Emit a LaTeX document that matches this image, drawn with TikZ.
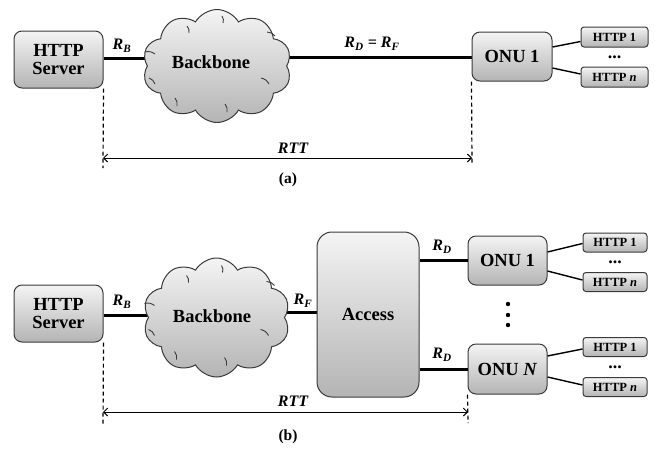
\documentclass[tikz,border=0pt]{standalone}
\usepackage{fontspec}
\setmainfont{Liberation Serif}
\usetikzlibrary{shapes.symbols,arrows.meta,calc}
\pgfdeclarelayer{bg}
\pgfsetlayers{bg,main}
\definecolor{boxtop}{HTML}{F4F4F4}
\definecolor{boxbot}{HTML}{B4B4B4}
\definecolor{edgec}{HTML}{3A3A3A}
\tikzset{
  gfill/.style={top color=boxtop, bottom color=boxbot, draw=edgec, line width=1},
  bigbox/.style={gfill, rounded corners=8, font=\fontsize{18.5}{18.5}\selectfont\bfseries, align=center, inner sep=0},
  smallbox/.style={gfill, rounded corners=3, font=\fontsize{12.5}{13}\selectfont\bfseries, inner sep=0, minimum height=20},
  cloudnode/.style={cloud, cloud puffs=10, cloud puff arc=120, gfill, inner sep=0},
  crease/.style={draw=edgec, line width=0.9},
  bigtext/.style={font=\fontsize{18.5}{18.5}\selectfont\bfseries, inner sep=0},
  lbl/.style={font=\fontsize{16}{16}\selectfont\bfseries\itshape, inner sep=0},
  captext/.style={font=\fontsize{15.5}{15.5}\selectfont\bfseries, inner sep=0},
  dotsnode/.style={font=\fontsize{18}{18}\selectfont\bfseries, inner sep=0, text height=2.5, text depth=0},
  thickline/.style={line width=3, black},
  thinline/.style={line width=1.4, black},
  dashline/.style={line width=1.2, dash pattern=on 4 off 3},
  rtt/.style={line width=0.9, {Straight Barb[length=4,width=8]}-{Straight Barb[length=4,width=8]}},
}
\begin{document}
\begin{tikzpicture}[x=1pt,y=-1pt]
\useasboundingbox (0,0) rectangle (655,448);
% ---------- panel (a) ----------
\node[bigbox, minimum width=89, minimum height=57] (srva) at (58.5,59.5) {HTTP\\Server};
\node[cloudnode, minimum width=149, minimum height=113] (clda) at (217,66) {};
\foreach \a/\b/\c/\d in {-72/-14/-62/-12, -68/12/-62/18, -42/32/-40/40, 8/38/10/46, 44/12/52/18, 50/-34/58/-30, 5/-50/6/-43, -30/-40/-28/-33}
  \draw[crease] ($(clda.center)+(\a,\b)$) to[bend left=25] ($(clda.center)+(\c,\d)$);
\node[bigtext] (bba) at (211,62) {Backbone};
\node[bigbox, minimum width=80, minimum height=49] (onua) at (512,56.5) {ONU 1};
\node[smallbox, minimum width=67] (h1a) at (614.5,37) {HTTP 1};
\node[smallbox, minimum width=67] (hna) at (614.5,77) {HTTP \textit{n}};
\node[dotsnode] (dta) at (614.5,57) {...};
\node[lbl] (rba) at (122,46) {R\textsubscript{B}};
\node[lbl] (rdfa) at (372,44) {R\textsubscript{D} = R\textsubscript{F}};
\node[lbl] (rtta) at (293,148) {RTT};
\node[captext] (capa) at (288,180) {(a)};
\coordinate (la) at (103,168);
\coordinate (ra) at (472,165);
\coordinate (aa) at (103,158);
\coordinate (ab) at (472,158);
\begin{pgfonlayer}{bg}
\draw[thickline] (srva.east |- 0,58) -- (clda.center |- 0,58);
\draw[thickline] (clda.center |- 0,57) -- (onua.west |- 0,57);
\end{pgfonlayer}
\draw[thinline] ($(onua.east)+(0,-9.5)$) -- ($(h1a.west)+(0,4.5)$);
\draw[thinline] ($(onua.east)+(0,11.5)$) -- ($(hna.west)+(0,-3)$);
\draw[dashline] (srva.south east) -- (la);
\draw[dashline] (onua.south west) -- (ra);
\draw[rtt] (aa) -- (ab);
% ---------- panel (b) ----------
\node[bigbox, minimum width=89, minimum height=57] (srvb) at (58.5,313.5) {HTTP\\Server};
\node[cloudnode, minimum width=147, minimum height=119] (cldb) at (216.5,317.5) {};
\foreach \a/\b/\c/\d in {-72/-14/-62/-12, -68/12/-62/18, -42/34/-40/42, 8/40/10/48, 44/12/52/18, 50/-36/58/-32, 5/-52/6/-45, -30/-42/-28/-35}
  \draw[crease] ($(cldb.center)+(\a,\b)$) to[bend left=25] ($(cldb.center)+(\c,\d)$);
\node[bigtext] (bbb) at (212,316) {Backbone};
\node[bigbox, rounded corners=15, minimum width=102, minimum height=165] (acc) at (368,314.5) {Access};
\node[bigbox, minimum width=79, minimum height=49] (onu1b) at (507.5,260.5) {ONU 1};
\node[bigbox, minimum width=79, minimum height=50] (onuNb) at (507.5,369) {ONU \textit{N}};
\node[smallbox, minimum width=64, minimum height=19] (h1b) at (615,242.5) {HTTP 1};
\node[smallbox, minimum width=64, minimum height=19] (hnb) at (615,282) {HTTP \textit{n}};
\node[smallbox, minimum width=64, minimum height=19] (h1c) at (615,347) {HTTP 1};
\node[smallbox, minimum width=64, minimum height=19] (hnc) at (615,387) {HTTP \textit{n}};
\node[dotsnode] (dtb) at (615,262) {...};
\node[dotsnode] (dtc) at (615,367) {...};
\fill (508,304) circle (2.2) (508,315) circle (2.2) (508,325) circle (2.2);
\node[lbl] (rbb) at (122,302) {R\textsubscript{B}};
\node[lbl] (rfb) at (303,301) {R\textsubscript{F}};
\node[lbl] (rd1) at (442,247) {R\textsubscript{D}};
\node[lbl] (rd2) at (442,355) {R\textsubscript{D}};
\node[lbl] (rttb) at (293,401) {RTT};
\node[captext] (capb) at (288,437) {(b)};
\coordinate (lb) at (103,426);
\coordinate (rb) at (468,423);
\coordinate (ba) at (103,412);
\coordinate (bb) at (468,412);
\begin{pgfonlayer}{bg}
\draw[thickline] (srvb.east |- 0,315) -- (cldb.center |- 0,315);
\draw[thickline] (cldb.center |- 0,312) -- (acc.west |- 0,312);
\end{pgfonlayer}
\draw[thickline] (onu1b.west -| acc.east) -- (onu1b.west);
\draw[thickline] (onuNb.west -| acc.east) -- (onuNb.west);
\draw[thinline] ($(onu1b.east)+(0,-8.5)$) -- ($(h1b.west)+(0,1)$);
\draw[thinline] ($(onu1b.east)+(0,10.5)$) -- ($(hnb.west)+(0,-2)$);
\draw[thinline] ($(onuNb.east)+(0,-13)$) -- ($(h1c.west)+(0,2)$);
\draw[thinline] ($(onuNb.east)+(0,8)$) -- ($(hnc.west)+(0,-2)$);
\draw[dashline] (srvb.south east) -- (lb);
\draw[dashline] (onuNb.south west) -- (rb);
\draw[rtt] (ba) -- (bb);
\end{tikzpicture}
\end{document}
